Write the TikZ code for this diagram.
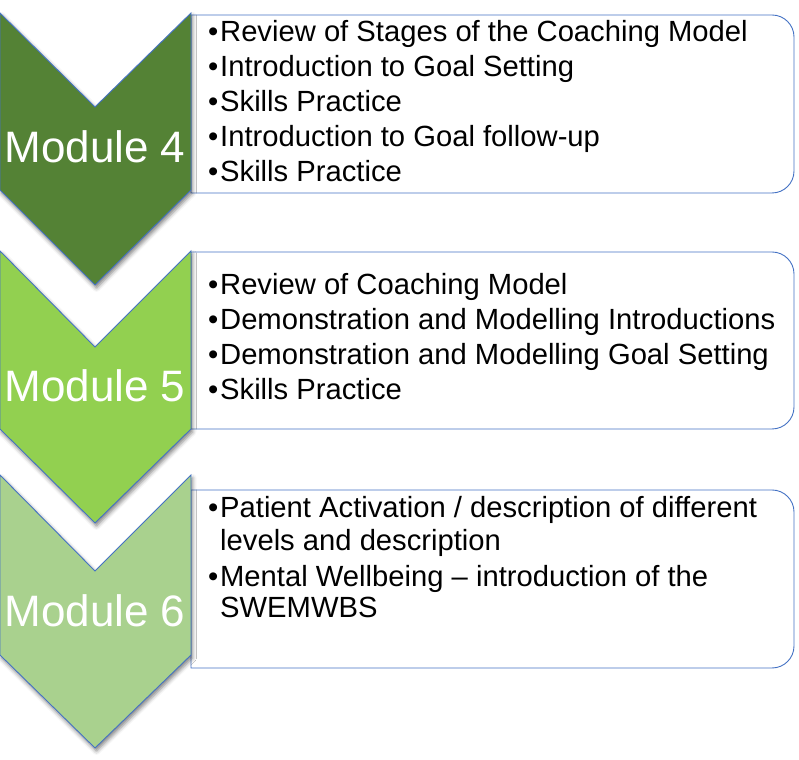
\documentclass[tikz,border=0pt]{standalone}
\usepackage{fontspec}
\setmainfont{Liberation Sans}
\usetikzlibrary{shadows.blur}
\definecolor{dkgreen}{HTML}{548235}
\definecolor{mdgreen}{HTML}{92D050}
\definecolor{ltgreen}{HTML}{A9D18E}
\definecolor{edgeblue}{HTML}{4472C4}
\newcommand{\bulmark}{\makebox[12pt][l]{•}}
\tikzset{
  chev/.style={draw=edgeblue, line width=0.9pt, line join=miter,
    blur shadow={shadow xshift=1.5pt, shadow yshift=-3pt, shadow blur radius=4pt, shadow opacity=50}},
  itembox/.style={draw=edgeblue, line width=0.9pt, fill=white},
  modlabel/.style={text=white, font=\fontsize{44}{50}\selectfont, anchor=base, inner sep=0pt},
  itemline/.style={anchor=base west, inner sep=0pt, font=\fontsize{29.2}{35}\selectfont},
}
\begin{document}
\begin{tikzpicture}[x=1pt,y=1pt]
\useasboundingbox (0,0) rectangle (799,759);
% boxes
\draw[itembox] (191,744) -- (772,744) arc[start angle=90,end angle=0,radius=22pt] -- (794,588) arc[start angle=0,end angle=-90,radius=22pt] -- (191,566) -- cycle;
\draw[itembox] (191,507) -- (772,507) arc[start angle=90,end angle=0,radius=22pt] -- (794,352) arc[start angle=0,end angle=-90,radius=22pt] -- (191,330) -- cycle;
\draw[itembox] (191,269) -- (772,269) arc[start angle=90,end angle=0,radius=22pt] -- (794,113) arc[start angle=0,end angle=-90,radius=22pt] -- (191,91) -- cycle;
% chevrons
\draw[chev, fill=dkgreen] (0,746) -- (95,652) -- (191,746) -- (191,569) -- (95,474) -- (0,569) -- cycle;
\draw[chev, fill=mdgreen] (0,508) -- (95,412) -- (191,508) -- (191,330) -- (95,236) -- (0,330) -- cycle;
\draw[chev, fill=ltgreen] (0,284) -- (95,188) -- (191,284) -- (191,104) -- (95,11) -- (0,104) -- cycle;
% module labels
\node[modlabel] (m4) at (95,596) {Module 4};
\node[modlabel] (m5) at (95,357) {Module 5};
\node[modlabel] (m6) at (95,132) {Module 6};
% box 1
\node[itemline] (a1) at (208,717) {\bulmark Review of Stages of the Coaching Model};
\node[itemline] (a2) at (208,682) {\bulmark Introduction to Goal Setting};
\node[itemline] (a3) at (208,647) {\bulmark Skills Practice};
\node[itemline] (a4) at (208,612) {\bulmark Introduction to Goal follow-up};
\node[itemline] (a5) at (208,577) {\bulmark Skills Practice};
% box 2
\node[itemline] (b1) at (208,464) {\bulmark Review of Coaching Model};
\node[itemline] (b2) at (208,429) {\bulmark Demonstration and Modelling Introductions};
\node[itemline] (b3) at (208,394) {\bulmark Demonstration and Modelling Goal Setting};
\node[itemline] (b4) at (208,359) {\bulmark Skills Practice};
% box 3
\node[itemline] (c1) at (208,241) {\bulmark Patient Activation / description of different};
\node[itemline] (c2) at (220,208) {levels and description};
\node[itemline] (c3) at (208,172) {\bulmark Mental Wellbeing – introduction of the};
\node[itemline] (c4) at (220,141) {SWEMWBS};
\end{tikzpicture}
\end{document}
